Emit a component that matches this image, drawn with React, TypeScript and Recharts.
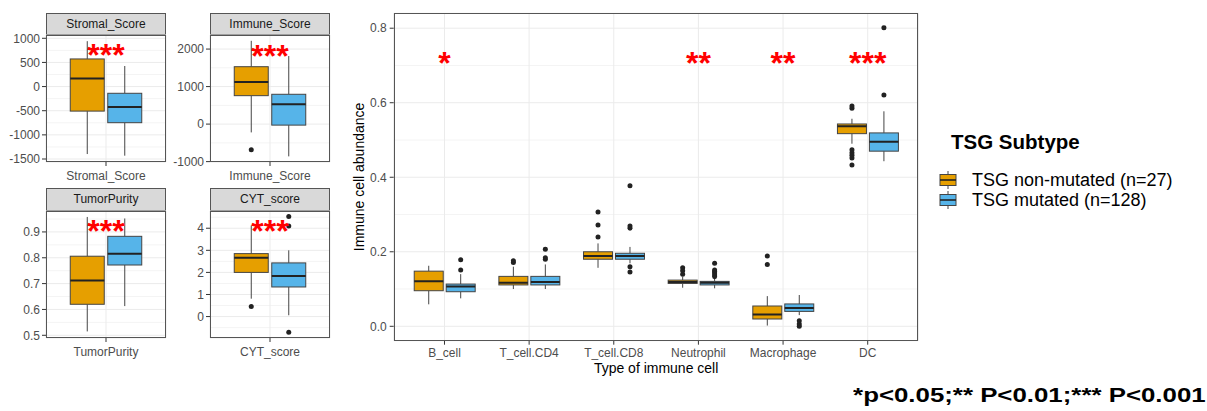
import React from 'react'
import { ComposedChart, Bar, Scatter, XAxis, YAxis, CartesianGrid } from 'recharts'

const ORANGE = '#E69F00'
const BLUE = '#56B4E9'
const EDGE = '#444444'
const FONT = '"Liberation Sans", Arial, sans-serif'

// box stats are [lower whisker, Q1, median, Q3, upper whisker]
const stromalNonMut = [-1397, -508, 167, 572, 940]
const stromalMut = [-1431, -748, -423, -139, 426]
const stromalTicks = [-1500, -1000, -500, 0, 500, 1000]
const stromalMinor = [-1250, -750, -250, 250, 750]

const immuneNonMut = [-221, 758, 1123, 1530, 2220]
const immuneNonMutOut = [-686]
const immuneMut = [-860, -27, 530, 795, 1814]
const immuneTicks = [-1000, 0, 1000, 2000]
const immuneMinor = [-500, 500, 1500]

const purityNonMut = [0.515, 0.62, 0.712, 0.806, 0.958]
const purityMut = [0.613, 0.772, 0.816, 0.883, 0.952]
const purityTicks = [0.5, 0.6, 0.7, 0.8, 0.9]
const purityMinor = [0.55, 0.65, 0.75, 0.85, 0.95]

const cytNonMut = [0.81, 2.0, 2.66, 2.85, 4.12]
const cytNonMutOut = [0.46]
const cytMut = [0.06, 1.34, 1.84, 2.43, 3.0]
const cytMutOut = [-0.71, 4.1, 4.53]
const cytTicks = [0, 1, 2, 3, 4]
const cytMinor = [-0.5, 0.5, 1.5, 2.5, 3.5, 4.5]

const cellTypes = ['B_cell', 'T_cell.CD4', 'T_cell.CD8', 'Neutrophil', 'Macrophage', 'DC']
const cellNonMut = [
  [0.059, 0.0955, 0.1206, 0.148, 0.1625],
  [0.1, 0.111, 0.117, 0.134, 0.16],
  [0.157, 0.18, 0.1885, 0.2, 0.2225],
  [0.1035, 0.115, 0.119, 0.124, 0.133],
  [0.002, 0.0196, 0.032, 0.0545, 0.081],
  [0.49, 0.517, 0.537, 0.543, 0.557],
]
const cellMut = [
  [0.075, 0.0928, 0.107, 0.1134, 0.14],
  [0.1, 0.111, 0.119, 0.134, 0.166],
  [0.169, 0.18, 0.189, 0.196, 0.213],
  [0.102, 0.111, 0.117, 0.1206, 0.129],
  [0.03, 0.04, 0.049, 0.06, 0.084],
  [0.443, 0.47, 0.495, 0.519, 0.577],
]
const cellNonMutOut = [
  [],
  [0.171, 0.176],
  [0.24, 0.2716, 0.307],
  [0.14, 0.149, 0.157],
  [0.166, 0.189],
  [0.433, 0.452, 0.459, 0.466, 0.474, 0.585, 0.591],
]
const cellMutOut = [
  [0.151, 0.1786],
  [0.18, 0.184, 0.207],
  [0.146, 0.16, 0.263, 0.269, 0.377],
  [0.133, 0.138, 0.143, 0.147, 0.151, 0.169],
  [0.0, 0.006, 0.015],
  [0.621, 0.801],
]
const cellStars = ['*', '', '', '**', '**', '***']
const cellStarY = 0.725
const cellTicks = [0, 0.2, 0.4, 0.6, 0.8]
const cellMinor = [0.1, 0.3, 0.5, 0.7]

const legendLabels = ['TSG non-mutated (n=27)', 'TSG mutated (n=128)']

const STAR_SIZE = 32

const boxShape = (statsKey: string, outKey: string, fill: string) => (props: any) => {
  const { x, y, width, height, payload } = props
  const st: number[] = payload[statsKey]
  const out: number[] = payload[outKey] || []
  const top = Math.min(y, y + height)
  const h = Math.abs(height)
  const k = h / (st[3] - st[1])
  const py = (v: number) => top + (st[3] - v) * k
  const cx = x + width / 2
  return (
    <g>
      <line x1={cx} x2={cx} y1={py(st[4])} y2={py(st[3])} stroke={EDGE} strokeWidth={1} />
      <line x1={cx} x2={cx} y1={py(st[1])} y2={py(st[0])} stroke={EDGE} strokeWidth={1} />
      <rect x={x} y={top} width={width} height={h} fill={fill} stroke={EDGE} strokeWidth={1} />
      <line x1={x} x2={x + width} y1={py(st[2])} y2={py(st[2])} stroke="#222" strokeWidth={2} />
      {out.map((v, i) => (
        <circle key={i} cx={cx} cy={py(v)} r={2.5} fill="#222" />
      ))}
    </g>
  )
}

const starShape = (props: any) => {
  const { cx, cy, payload } = props
  if (!payload || !payload.star || cx == null || cy == null || isNaN(cy)) return <g />
  return (
    <text x={cx} y={cy + 0.57 * STAR_SIZE} textAnchor="middle" fill="#FF0000" fontSize={STAR_SIZE} fontWeight="bold" fontFamily={FONT}>
      {payload.star}
    </text>
  )
}

const tickStyle = { fill: '#4D4D4D', fontSize: 12, fontFamily: FONT }

// extra room above the plot so the top tick label is not clipped
const PAD = 8

function Panel({ left, top, title, non, mut, nonOut = [], mutOut = [], ticks, minor, domain, starY, fmt }: any) {
  const rows = [
    { name: title, nonBox: [non[1], non[3]], mutBox: [mut[1], mut[3]], nonStats: non, mutStats: mut, nonOut, mutOut, star: '***', starY },
  ]
  return (
    <>
      <div
        style={{
          position: 'absolute', left: left + 46, top, width: 120, height: 22.4, boxSizing: 'border-box',
          background: '#D9D9D9', border: '1px solid #555', color: '#1A1A1A', fontSize: 12, fontFamily: FONT,
          display: 'flex', alignItems: 'center', justifyContent: 'center',
        }}
      >
        {title}
      </div>
      <div style={{ position: 'absolute', left, top: top + 22.4 - PAD }}>
        <ComposedChart width={170} height={153 + PAD} data={rows} margin={{ top: PAD, right: 4, left: 6, bottom: 0 }} barCategoryGap="14.25%" barGap="3.5%">
          <CartesianGrid vertical={false} horizontalValues={minor} stroke="#F4F4F4" />
          <CartesianGrid stroke="#EBEBEB" />
          <XAxis dataKey="name" padding={{ left: 10, right: 10 }} height={26} tickSize={4} tickMargin={5} axisLine={false} tickLine={{ stroke: '#333' }} tick={tickStyle} interval={0} />
          <YAxis type="number" domain={domain} ticks={ticks} allowDataOverflow width={40} tickSize={4} tickMargin={2} axisLine={false} tickLine={{ stroke: '#333' }} tick={tickStyle} interval={0} tickFormatter={fmt} />
          <Bar dataKey="nonBox" shape={boxShape('nonStats', 'nonOut', ORANGE)} isAnimationActive={false} />
          <Bar dataKey="mutBox" shape={boxShape('mutStats', 'mutOut', BLUE)} isAnimationActive={false} />
          <Scatter dataKey="starY" shape={starShape} isAnimationActive={false} />
        </ComposedChart>
        <div style={{ position: 'absolute', left: 46, top: PAD, width: 120, height: 127, border: '1px solid #555', boxSizing: 'border-box', pointerEvents: 'none' }} />
      </div>
    </>
  )
}

function LegendKey({ fill }: { fill: string }) {
  return (
    <svg width={18} height={18} style={{ display: 'block' }}>
      <line x1={9} x2={9} y1={0} y2={18} stroke={EDGE} />
      <rect x={1} y={3.5} width={16} height={11} fill={fill} stroke={EDGE} />
      <line x1={1} x2={17} y1={9} y2={9} stroke="#222" strokeWidth={1.6} />
    </svg>
  )
}

export default function App() {
  const cellRows = cellTypes.map((name, i) => ({
    name,
    nonBox: [cellNonMut[i][1], cellNonMut[i][3]],
    mutBox: [cellMut[i][1], cellMut[i][3]],
    nonStats: cellNonMut[i],
    mutStats: cellMut[i],
    nonOut: cellNonMutOut[i],
    mutOut: cellMutOut[i],
    star: cellStars[i],
    starY: cellStars[i] ? cellStarY : null,
  }))

  return (
    <div style={{ position: 'absolute', left: 0, top: 0, width: 1207, height: 411, background: '#fff', fontFamily: FONT, overflow: 'hidden' }}>
      <Panel left={0} top={12.6} title="Stromal_Score" non={stromalNonMut} mut={stromalMut} ticks={stromalTicks} minor={stromalMinor} domain={[-1562, 1068]} starY={800} />
      <Panel left={164} top={12.6} title="Immune_Score" non={immuneNonMut} mut={immuneMut} nonOut={immuneNonMutOut} ticks={immuneTicks} minor={immuneMinor} domain={[-1010, 2375]} starY={2010} />
      <Panel left={0} top={188.3} title="TumorPurity" non={purityNonMut} mut={purityMut} ticks={purityTicks} minor={purityMinor} domain={[0.4895, 0.981]} starY={0.932} fmt={(v: number) => v.toFixed(1)} />
      <Panel left={164} top={188.3} title="CYT_score" non={cytNonMut} mut={cytMut} nonOut={cytNonMutOut} mutOut={cytMutOut} ticks={cytTicks} minor={cytMinor} domain={[-0.97, 4.78]} starY={4.18} />

      <div style={{ position: 'absolute', left: 340, top: 0 }}>
        <ComposedChart width={583} height={378.7} data={cellRows} margin={{ top: 13.3, right: 4.5, left: 13.7, bottom: 0 }} barCategoryGap="14.25%" barGap="3.5%">
          <CartesianGrid vertical={false} horizontalValues={cellMinor} stroke="#F4F4F4" />
          <CartesianGrid stroke="#EBEBEB" />
          <XAxis
            dataKey="name"
            padding={{ left: 8.46, right: 8.46 }}
            height={38}
            tickSize={4}
            tickMargin={4}
            axisLine={false}
            tickLine={{ stroke: '#333' }}
            tick={tickStyle}
            interval={0}
            label={{ value: 'Type of immune cell', position: 'insideBottom', offset: 5.9, style: { fill: '#000', fontSize: 14, fontFamily: FONT } }}
          />
          <YAxis
            type="number"
            domain={[-0.0386, 0.84]}
            ticks={cellTicks}
            allowDataOverflow
            width={40}
            tickSize={4}
            tickMargin={3}
            axisLine={false}
            tickLine={{ stroke: '#333' }}
            tick={tickStyle}
            interval={0}
            tickFormatter={(v: number) => v.toFixed(1)}
            label={{ value: 'Immune cell abundance', angle: -90, position: 'insideLeft', offset: 5, style: { textAnchor: 'middle', fill: '#000', fontSize: 14, fontFamily: FONT } }}
          />
          <Bar dataKey="nonBox" shape={boxShape('nonStats', 'nonOut', ORANGE)} isAnimationActive={false} />
          <Bar dataKey="mutBox" shape={boxShape('mutStats', 'mutOut', BLUE)} isAnimationActive={false} />
          <Scatter dataKey="starY" shape={starShape} isAnimationActive={false} />
        </ComposedChart>
        <div style={{ position: 'absolute', left: 53.7, top: 13.3, width: 524.8, height: 327.4, border: '1px solid #555', boxSizing: 'border-box', pointerEvents: 'none' }} />
      </div>

      <div style={{ position: 'absolute', left: 951, top: 130, fontSize: 20.5, fontWeight: 'bold', color: '#000', lineHeight: '24px', whiteSpace: 'nowrap' }}>TSG Subtype</div>
      {legendLabels.map((label, i) => (
        <div key={label} style={{ position: 'absolute', left: 939, top: 169.5 + i * 20.7, display: 'flex', alignItems: 'center', height: 20, whiteSpace: 'nowrap' }}>
          <LegendKey fill={i === 0 ? ORANGE : BLUE} />
          <span style={{ marginLeft: 15, fontSize: 18, color: '#000', lineHeight: '20px' }}>{label}</span>
        </div>
      ))}

      <div style={{ position: 'absolute', right: 1, top: 382, fontSize: 21, fontWeight: 'bold', color: '#000', lineHeight: '26px', whiteSpace: 'nowrap', transform: 'scaleX(1.23)', transformOrigin: 'right center' }}>
        *p&lt;0.05;** P&lt;0.01;*** P&lt;0.001
      </div>
    </div>
  )
}
